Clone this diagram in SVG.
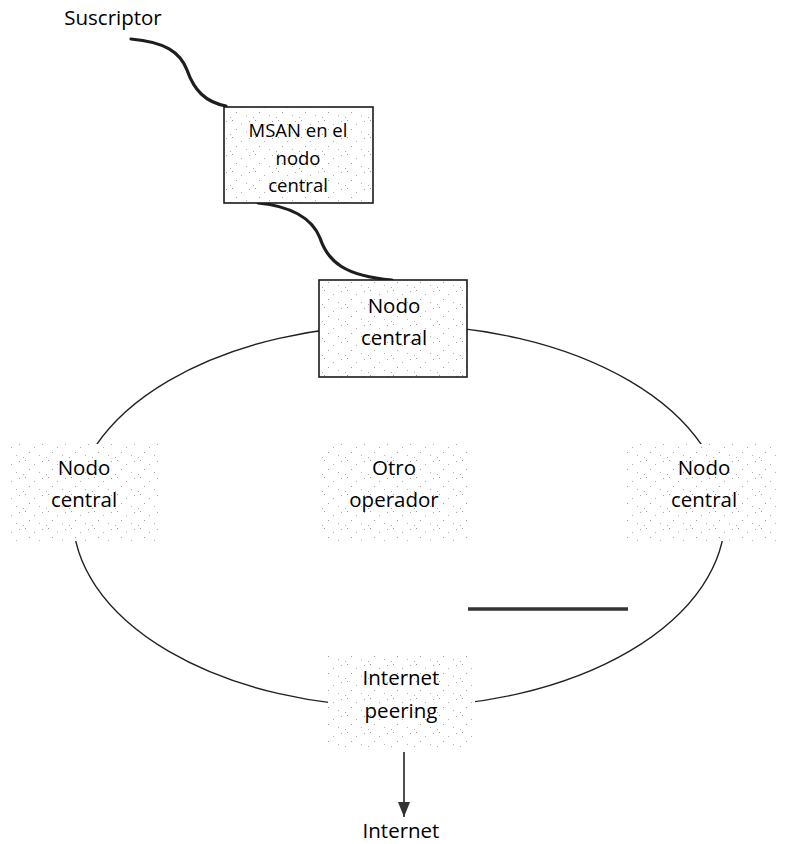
<svg xmlns="http://www.w3.org/2000/svg" width="787" height="844" viewBox="0 0 787 844">
  <style>
    .lbl { font-family: "Open Sans", "Liberation Sans", sans-serif; font-size: 20.5px; fill: #000; text-anchor: middle; }
    .small { font-size: 18.5px; }
    .box { fill: url(#stipple); }
    .framed { stroke: #1a1a1a; stroke-width: 1.6; }
    .cable { fill: none; stroke: #1e1e1e; stroke-width: 3.2; stroke-linecap: round; }
    .ring { fill: none; stroke: #222; stroke-width: 1.4; }
  </style>
  <defs>
    <!-- sparse grey dot texture used as box fill -->
    <pattern id="stipple" width="23" height="17" patternUnits="userSpaceOnUse">
      <rect width="23" height="17" fill="#fff"/>
      <rect x="2" y="1" width="1" height="1" fill="#9a9a9a"/>
      <rect x="11" y="5" width="1" height="1" fill="#b0b0b0"/>
      <rect x="19" y="2" width="1" height="1" fill="#a5a5a5"/>
      <rect x="6" y="10" width="1" height="1" fill="#a0a0a0"/>
      <rect x="16" y="13" width="1" height="1" fill="#b5b5b5"/>
      <rect x="0" y="15" width="1" height="1" fill="#aaaaaa"/>
    </pattern>
    <marker id="arrow" viewBox="0 0 15 12" refX="15" refY="6" markerWidth="15" markerHeight="12" markerUnits="userSpaceOnUse" orient="auto">
      <path d="M0,0 L15,6 L0,12 Z" fill="#333"/>
    </marker>
  </defs>

  <g id="connectors">
    <path id="ring" class="ring" d="M73,516 A326,191 0 1,1 725,516 A326,191 0 1,1 73,516 Z"/>
    <path class="cable" d="M131,39 C165,42 180,52 187,70 C194,90 205,102 226,106"/>
    <path class="cable" d="M258,203 C290,206 312,218 320,238 C328,262 345,276 392,280"/>
    <line x1="404" y1="752" x2="404" y2="817" stroke="#222" stroke-width="1.6" marker-end="url(#arrow)"/>
  </g>

  <g id="suscriptor">
    <text class="lbl" x="113" y="25">Suscriptor</text>
  </g>

  <g id="msan">
    <rect class="box framed" x="224" y="107" width="149" height="96"/>
    <text class="lbl small" x="298" y="137">MSAN en el</text>
    <text class="lbl small" x="298" y="165">nodo</text>
    <text class="lbl small" x="298" y="192">central</text>
  </g>

  <g id="nodo-top">
    <rect class="box framed" x="319" y="280" width="148" height="97"/>
    <text class="lbl" x="394" y="313">Nodo</text>
    <text class="lbl" x="394" y="345">central</text>
  </g>

  <g id="nodo-left">
    <rect class="box" x="10" y="444" width="148" height="97"/>
    <text class="lbl" x="84" y="475">Nodo</text>
    <text class="lbl" x="84" y="507">central</text>
  </g>

  <g id="otro-operador">
    <rect class="box" x="322" y="444" width="147" height="97"/>
    <text class="lbl" x="394" y="475">Otro</text>
    <text class="lbl" x="394" y="507">operador</text>
  </g>

  <g id="nodo-right">
    <rect class="box" x="627" y="444" width="150" height="97"/>
    <text class="lbl" x="704" y="475">Nodo</text>
    <text class="lbl" x="704" y="507">central</text>
  </g>

  <g id="internet-peering">
    <rect class="box" x="328" y="652" width="147" height="96"/>
    <text class="lbl" x="401" y="685">Internet</text>
    <text class="lbl" x="401" y="718">peering</text>
  </g>

  <g id="internet">
    <text class="lbl" x="401" y="838">Internet</text>
  </g>

  <g id="bar">
    <line x1="468" y1="609" x2="628" y2="609" stroke="#333" stroke-width="3.5"/>
  </g>
</svg>
